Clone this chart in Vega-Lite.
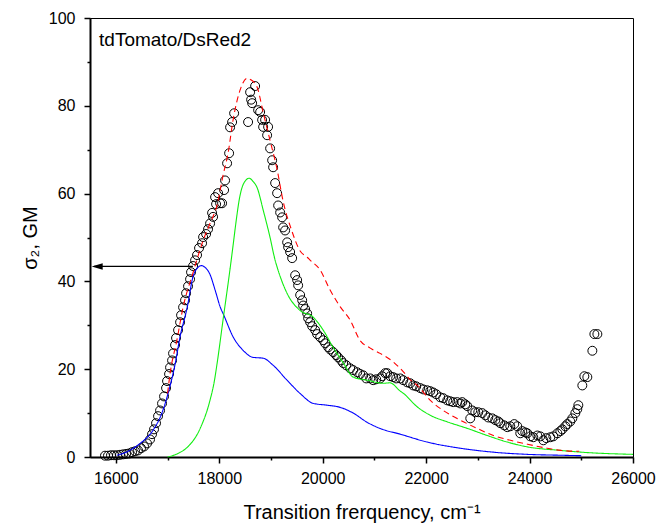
{
  "$schema": "https://vega.github.io/schema/vega-lite/v6.json",
  "width": 543,
  "height": 439,
  "autosize": {"type": "none"},
  "padding": {"left": 90, "top": 18, "right": 29, "bottom": 74},
  "background": "white",
  "config": {
    "font": "Liberation Sans",
    "view": {"stroke": "black", "strokeWidth": 1},
    "axis": {"domainColor": "black", "domainWidth": 2, "tickColor": "black", "tickWidth": 1.5, "labelColor": "black", "titleColor": "black", "labelFontSize": 16, "titleFontSize": 20, "titleFontWeight": "normal", "grid": false, "labelFont": "Liberation Sans", "titleFont": "Liberation Sans"}
  },
  "datasets": {
    "circles": [
      {"x":15790,"y":0.3},{"x":15848,"y":0.3},{"x":15906,"y":0.4},{"x":15964,"y":0.4},{"x":16022,"y":0.4},{"x":16080,"y":0.5},{"x":16139,"y":0.6},{"x":16197,"y":0.7},{"x":16255,"y":0.8},{"x":16313,"y":1.1},{"x":16371,"y":1.3},{"x":16429,"y":1.5},{"x":16487,"y":2.0},{"x":16545,"y":2.4},{"x":16603,"y":3.1},{"x":16661,"y":4.0},{"x":16700,"y":5.2},{"x":16738,"y":6.3},{"x":16777,"y":7.7},{"x":16816,"y":9.3},{"x":16855,"y":10.6},{"x":16893,"y":12.2},{"x":16932,"y":13.8},{"x":16971,"y":15.7},{"x":16990,"y":17.3},{"x":17029,"y":18.9},{"x":17048,"y":20.4},{"x":17087,"y":22.0},{"x":17106,"y":23.6},{"x":17145,"y":25.5},{"x":17164,"y":27.1},{"x":17203,"y":28.9},{"x":17242,"y":30.7},{"x":17261,"y":32.3},{"x":17300,"y":34.1},{"x":17338,"y":35.7},{"x":17358,"y":37.3},{"x":17396,"y":38.9},{"x":17435,"y":40.5},{"x":17454,"y":42.1},{"x":17493,"y":43.5},{"x":17532,"y":44.8},{"x":17570,"y":46.0},{"x":17609,"y":47.6},{"x":17667,"y":48.7},{"x":17687,"y":50.1},{"x":17745,"y":50.8},{"x":17783,"y":51.9},{"x":17822,"y":53.2},{"x":17861,"y":55.6},{"x":17880,"y":54.7},{"x":17919,"y":59.2},{"x":17938,"y":57.6},{"x":17977,"y":60.1},{"x":18016,"y":57.8},{"x":18054,"y":57.8},{"x":18093,"y":60.8},{"x":18112,"y":63.0},{"x":18151,"y":66.9},{"x":18190,"y":69.2},{"x":18209,"y":75.1},{"x":18248,"y":76.3},{"x":18287,"y":78.3},{"x":18557,"y":76.3},{"x":18596,"y":83.1},{"x":18616,"y":81.4},{"x":18635,"y":80.6},{"x":18693,"y":84.5},{"x":18751,"y":79.0},{"x":18790,"y":78.6},{"x":18828,"y":76.8},{"x":18848,"y":75.2},{"x":18886,"y":76.8},{"x":18925,"y":73.3},{"x":18944,"y":75.2},{"x":18983,"y":70.3},{"x":19022,"y":67.6},{"x":19041,"y":66.0},{"x":19080,"y":62.4},{"x":19118,"y":60.1},{"x":19138,"y":57.3},{"x":19177,"y":55.7},{"x":19215,"y":54.6},{"x":19235,"y":52.3},{"x":19273,"y":51.6},{"x":19312,"y":48.9},{"x":19331,"y":47.8},{"x":19370,"y":46.7},{"x":19409,"y":45.3},{"x":19467,"y":41.4},{"x":19506,"y":40.3},{"x":19525,"y":39.1},{"x":19564,"y":36.9},{"x":19603,"y":35.7},{"x":19622,"y":34.5},{"x":19661,"y":33.7},{"x":19699,"y":32.7},{"x":19718,"y":31.6},{"x":19757,"y":30.7},{"x":19796,"y":29.8},{"x":19854,"y":28.9},{"x":19892,"y":28.0},{"x":19951,"y":27.3},{"x":20009,"y":26.6},{"x":20048,"y":25.9},{"x":20106,"y":25.0},{"x":20144,"y":24.5},{"x":20202,"y":23.9},{"x":20260,"y":23.2},{"x":20299,"y":22.7},{"x":20357,"y":22.0},{"x":20396,"y":21.4},{"x":20454,"y":20.9},{"x":20531,"y":20.2},{"x":20589,"y":19.8},{"x":20667,"y":19.3},{"x":20725,"y":18.9},{"x":20783,"y":18.6},{"x":20841,"y":17.9},{"x":20918,"y":17.9},{"x":20976,"y":17.5},{"x":21034,"y":17.7},{"x":21112,"y":17.9},{"x":21150,"y":18.4},{"x":21208,"y":19.1},{"x":21247,"y":19.1},{"x":21305,"y":18.4},{"x":21363,"y":18.2},{"x":21421,"y":17.9},{"x":21499,"y":17.9},{"x":21557,"y":17.5},{"x":21634,"y":17.0},{"x":21692,"y":16.8},{"x":21750,"y":16.3},{"x":21808,"y":16.1},{"x":21886,"y":15.7},{"x":21944,"y":15.4},{"x":22021,"y":15.2},{"x":22079,"y":15.0},{"x":22137,"y":14.7},{"x":22195,"y":14.3},{"x":22273,"y":13.6},{"x":22331,"y":13.4},{"x":22408,"y":12.9},{"x":22466,"y":12.7},{"x":22524,"y":12.5},{"x":22601,"y":12.5},{"x":22660,"y":12.2},{"x":22698,"y":12.5},{"x":22756,"y":12.0},{"x":22795,"y":11.6},{"x":22853,"y":8.8},{"x":22892,"y":10.6},{"x":22950,"y":10.2},{"x":23008,"y":10.2},{"x":23085,"y":10.0},{"x":23143,"y":9.5},{"x":23201,"y":9.0},{"x":23279,"y":8.8},{"x":23337,"y":8.4},{"x":23395,"y":8.1},{"x":23434,"y":7.7},{"x":23511,"y":7.2},{"x":23569,"y":6.8},{"x":23627,"y":7.0},{"x":23704,"y":7.5},{"x":23762,"y":7.0},{"x":23820,"y":5.4},{"x":23859,"y":5.9},{"x":23917,"y":5.6},{"x":23956,"y":5.4},{"x":24014,"y":4.7},{"x":24072,"y":4.5},{"x":24150,"y":4.9},{"x":24208,"y":4.7},{"x":24266,"y":3.8},{"x":24324,"y":4.3},{"x":24401,"y":4.5},{"x":24459,"y":4.7},{"x":24537,"y":5.4},{"x":24595,"y":5.9},{"x":24633,"y":6.3},{"x":24691,"y":7.0},{"x":24730,"y":7.5},{"x":24788,"y":8.1},{"x":24827,"y":8.8},{"x":24885,"y":10.0},{"x":24923,"y":10.9},{"x":24943,"y":11.8},{"x":25020,"y":16.3},{"x":25059,"y":18.4},{"x":25117,"y":18.2},{"x":25214,"y":24.2},{"x":25253,"y":28.0},{"x":25311,"y":28.0}
    ],
    "curves": [
      {"s":"blue","x":16020,"y":0.4},{"s":"blue","x":16200,"y":1.1},{"s":"blue","x":16470,"y":3.1},{"s":"blue","x":16720,"y":6.1},{"s":"blue","x":16890,"y":10.0},{"s":"blue","x":17010,"y":14.5},{"s":"blue","x":17150,"y":21.4},{"s":"blue","x":17240,"y":27.3},{"s":"blue","x":17380,"y":34.1},{"s":"blue","x":17490,"y":41.0},{"s":"blue","x":17590,"y":43.2},{"s":"blue","x":17650,"y":43.6},{"s":"blue","x":17700,"y":43.4},{"s":"blue","x":17820,"y":41.6},{"s":"blue","x":17920,"y":38.0},{"s":"blue","x":18020,"y":34.1},{"s":"blue","x":18080,"y":32.5},{"s":"blue","x":18270,"y":27.3},{"s":"blue","x":18460,"y":24.3},{"s":"blue","x":18650,"y":22.7},{"s":"blue","x":18850,"y":22.5},{"s":"blue","x":19040,"y":20.9},{"s":"blue","x":19310,"y":17.5},{"s":"blue","x":19560,"y":14.5},{"s":"blue","x":19820,"y":12.2},{"s":"blue","x":20090,"y":11.8},{"s":"blue","x":20340,"y":11.3},{"s":"blue","x":20590,"y":10.0},{"s":"blue","x":20860,"y":7.9},{"s":"blue","x":21110,"y":6.5},{"s":"blue","x":21500,"y":5.2},{"s":"blue","x":22020,"y":3.4},{"s":"blue","x":22660,"y":2.0},{"s":"blue","x":23300,"y":1.1},{"s":"blue","x":23960,"y":0.6},{"s":"blue","x":24600,"y":0.4},{"s":"blue","x":25000,"y":0.3},
      {"s":"green","x":17000,"y":0.0},{"s":"green","x":17200,"y":0.8},{"s":"green","x":17380,"y":2.2},{"s":"green","x":17630,"y":6.5},{"s":"green","x":17820,"y":12.9},{"s":"green","x":17900,"y":17.0},{"s":"green","x":17960,"y":21.5},{"s":"green","x":18070,"y":31.0},{"s":"green","x":18210,"y":43.0},{"s":"green","x":18270,"y":48.5},{"s":"green","x":18310,"y":52.3},{"s":"green","x":18400,"y":59.5},{"s":"green","x":18480,"y":62.5},{"s":"green","x":18580,"y":63.5},{"s":"green","x":18650,"y":62.8},{"s":"green","x":18730,"y":61.4},{"s":"green","x":18850,"y":56.2},{"s":"green","x":18980,"y":50.1},{"s":"green","x":19080,"y":44.8},{"s":"green","x":19120,"y":43.2},{"s":"green","x":19310,"y":37.3},{"s":"green","x":19560,"y":33.4},{"s":"green","x":19820,"y":31.8},{"s":"green","x":20010,"y":28.9},{"s":"green","x":20200,"y":25.0},{"s":"green","x":20400,"y":21.4},{"s":"green","x":20590,"y":18.2},{"s":"green","x":20860,"y":17.5},{"s":"green","x":21170,"y":16.8},{"s":"green","x":21300,"y":16.9},{"s":"green","x":21500,"y":15.0},{"s":"green","x":21560,"y":14.5},{"s":"green","x":21830,"y":11.4},{"s":"green","x":22080,"y":9.5},{"s":"green","x":22410,"y":8.0},{"s":"green","x":22800,"y":6.5},{"s":"green","x":23180,"y":4.9},{"s":"green","x":23570,"y":3.4},{"s":"green","x":23960,"y":2.3},{"s":"green","x":24600,"y":1.5},{"s":"green","x":25000,"y":1.1},{"s":"green","x":26000,"y":0.6},
      {"s":"red","x":17000,"y":14.5},{"s":"red","x":17050,"y":19.1},{"s":"red","x":17180,"y":26.6},{"s":"red","x":17300,"y":34.1},{"s":"red","x":17490,"y":41.9},{"s":"red","x":17690,"y":49.4},{"s":"red","x":17820,"y":53.2},{"s":"red","x":17960,"y":57.5},{"s":"red","x":18070,"y":64.0},{"s":"red","x":18170,"y":69.2},{"s":"red","x":18270,"y":77.0},{"s":"red","x":18400,"y":83.5},{"s":"red","x":18540,"y":86.3},{"s":"red","x":18600,"y":86.0},{"s":"red","x":18730,"y":84.3},{"s":"red","x":18850,"y":78.4},{"s":"red","x":18980,"y":72.2},{"s":"red","x":19120,"y":65.4},{"s":"red","x":19230,"y":58.5},{"s":"red","x":19400,"y":51.6},{"s":"red","x":19560,"y":47.0},{"s":"red","x":19700,"y":45.5},{"s":"red","x":19760,"y":44.8},{"s":"red","x":19950,"y":42.6},{"s":"red","x":20140,"y":38.1},{"s":"red","x":20340,"y":34.2},{"s":"red","x":20530,"y":31.2},{"s":"red","x":20720,"y":26.6},{"s":"red","x":20920,"y":24.8},{"s":"red","x":21110,"y":23.6},{"s":"red","x":21360,"y":21.7},{"s":"red","x":21560,"y":19.4},{"s":"red","x":21700,"y":17.5},{"s":"red","x":21830,"y":16.3},{"s":"red","x":22080,"y":12.9},{"s":"red","x":22330,"y":10.6},{"s":"red","x":22660,"y":8.4},{"s":"red","x":22990,"y":6.5},{"s":"red","x":23300,"y":4.9},{"s":"red","x":23630,"y":3.8},{"s":"red","x":23960,"y":2.9},{"s":"red","x":24340,"y":2.0},{"s":"red","x":24600,"y":1.5},{"s":"red","x":24960,"y":1.3}
    ],
    "arrowline": [{"x":15580,"y":43.4},{"x":17490,"y":43.4}],
    "arrowhead": [{"x":15639,"y":43.4}],
    "label": [{"x":15675,"y":93.6,"t":"tdTomato/DsRed2"}]
  },
  "encoding": {
    "x": {"field": "x", "type": "quantitative", "scale": {"domain": [15500, 26000], "nice": false, "zero": false},
      "axis": {"title": "Transition frerquency, cm⁻¹", "values": [16000,17000,18000,19000,20000,21000,22000,23000,24000,25000,26000], "format": "d", "labelExpr": "datum.value % 2000 == 0 ? datum.label : ''", "tickSize": {"condition": {"test": "datum.value % 2000 == 0", "value": 6}, "value": 3}, "labelPadding": 7, "titlePadding": 16, "labelFlush": false, "labelOverlap": false}},
    "y": {"field": "y", "type": "quantitative", "scale": {"domain": [0, 100], "nice": false},
      "axis": {"title": "σ₂, GM", "values": [0,10,20,30,40,50,60,70,80,90,100], "labelExpr": "datum.value % 20 == 0 ? datum.label : ''", "tickSize": {"condition": {"test": "datum.value % 20 == 0", "value": 6}, "value": 3}, "labelPadding": 9, "titlePadding": 8, "labelFlush": false, "labelOverlap": false}}
  },
  "layer": [
    {"data": {"name": "circles"}, "mark": {"type": "point", "shape": "circle", "filled": false, "stroke": "black", "strokeWidth": 1, "size": 80, "opacity": 1}},
    {"data": {"name": "curves"}, "mark": {"type": "line", "interpolate": "monotone"},
      "encoding": {
        "color": {"field": "s", "type": "nominal", "scale": {"domain": ["blue","green","red"], "range": ["#0000ff","#11ee11","#ff0000"]}, "legend": null},
        "strokeDash": {"field": "s", "type": "nominal", "scale": {"domain": ["blue","green","red"], "range": [[1,0],[1,0],[6,4]]}, "legend": null},
        "strokeWidth": {"field": "s", "type": "nominal", "scale": {"domain": ["blue","green","red"], "range": [1.1,1.1,1.6]}, "legend": null}
      }},
    {"data": {"name": "arrowline"}, "mark": {"type": "line", "color": "black", "strokeWidth": 1.2}, "encoding": {}},
    {"data": {"name": "arrowhead"}, "mark": {"type": "point", "shape": "M-1,0L1,-0.6L1,0.6Z", "filled": true, "color": "black", "size": 121, "opacity": 1}},
    {"data": {"name": "label"}, "mark": {"type": "text", "align": "left", "baseline": "alphabetic", "fontSize": 19, "color": "black", "font": "Liberation Sans"}, "encoding": {"text": {"field": "t"}}}
  ]
}
